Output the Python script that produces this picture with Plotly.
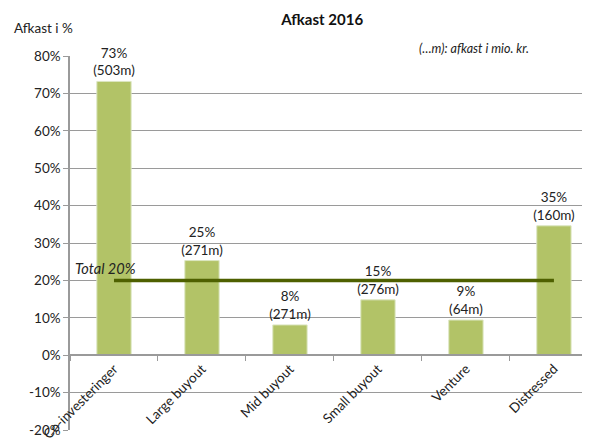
import plotly.graph_objects as go

categories = ["Co-investeringer", "Large buyout", "Mid buyout", "Small buyout", "Venture", "Distressed"]
returns_pct = [73.2, 25.3, 8.1, 14.8, 9.4, 34.6]
pct_labels = ["73%", "25%", "8%", "15%", "9%", "35%"]
mio_labels = ["(503m)", "(271m)", "(271m)", "(276m)", "(64m)", "(160m)"]
total_pct = 20
y_ticks = [-20, -10, 0, 10, 20, 30, 40, 50, 60, 70, 80]

font_name = "Lato, Open Sans, sans-serif"
grid_col = "#9a9a9a"

fig = go.Figure()

# bars with two-line labels above them
fig.add_trace(go.Bar(
    x=categories,
    y=returns_pct,
    text=[f"{p}<br>{m}" for p, m in zip(pct_labels, mio_labels)],
    textposition="outside",
    constraintext="none",
    textfont=dict(size=13.5, color="#222222", family=font_name),
    cliponaxis=False,
    width=0.39,
    marker=dict(color="#b2c367", line=dict(color="#dce6c2", width=1)),
    showlegend=False,
))

# total line across the categories
fig.add_trace(go.Scatter(
    x=[categories[0], categories[-1]],
    y=[total_pct, total_pct],
    mode="lines",
    line=dict(color="#4e6000", width=3.5),
    showlegend=False,
))

# the page body has an 8px default margin, so margins are trimmed by 8
fig.update_layout(
    width=590,
    height=446,
    margin=dict(l=62, r=8, t=48, b=24),
    paper_bgcolor="white",
    plot_bgcolor="white",
    font=dict(family=font_name, size=13.5, color="#222222"),
    title=dict(text="<b>Afkast 2016</b>", x=0.485, xref="paper", xanchor="center",
               y=0.973, yanchor="middle", font=dict(size=15, color="#111111")),
    xaxis=dict(
        type="category",
        range=[-0.5, 5.41],
        anchor="free",
        position=0.2005,
        automargin=False,
        showline=True,
        linecolor=grid_col,
        linewidth=1.5,
        ticks="outside",
        tickson="boundaries",
        ticklen=5,
        tickcolor=grid_col,
        tickangle=-45,
        tickfont=dict(size=13.5),
        showgrid=False,
    ),
    yaxis=dict(
        range=[-20, 80],
        automargin=False,
        tickvals=y_ticks,
        ticktext=[f"{v}%" for v in y_ticks],
        showgrid=True,
        gridcolor=grid_col,
        gridwidth=1,
        showline=True,
        linecolor=grid_col,
        linewidth=1.5,
        ticks="outside",
        ticklen=5,
        tickcolor=grid_col,
        zeroline=False,
        tickfont=dict(size=13.5),
    ),
    annotations=[
        dict(text="Afkast i %", xref="paper", yref="paper", x=-0.112, y=1.075,
             xanchor="left", yanchor="middle", showarrow=False, font=dict(size=13.5)),
        dict(text="<i>(…m): afkast i mio. kr.</i>", xref="paper", yref="paper",
             x=0.8865, y=1.021, xanchor="right", yanchor="middle", showarrow=False,
             font=dict(size=12.5)),
        dict(text="<i>Total 20%</i>", x=-0.47, y=total_pct, xref="x", yref="y",
             xanchor="left", yanchor="bottom", yshift=1, showarrow=False,
             font=dict(size=14.5, color="#222222")),
    ],
)

fig.write_html("out.html")
